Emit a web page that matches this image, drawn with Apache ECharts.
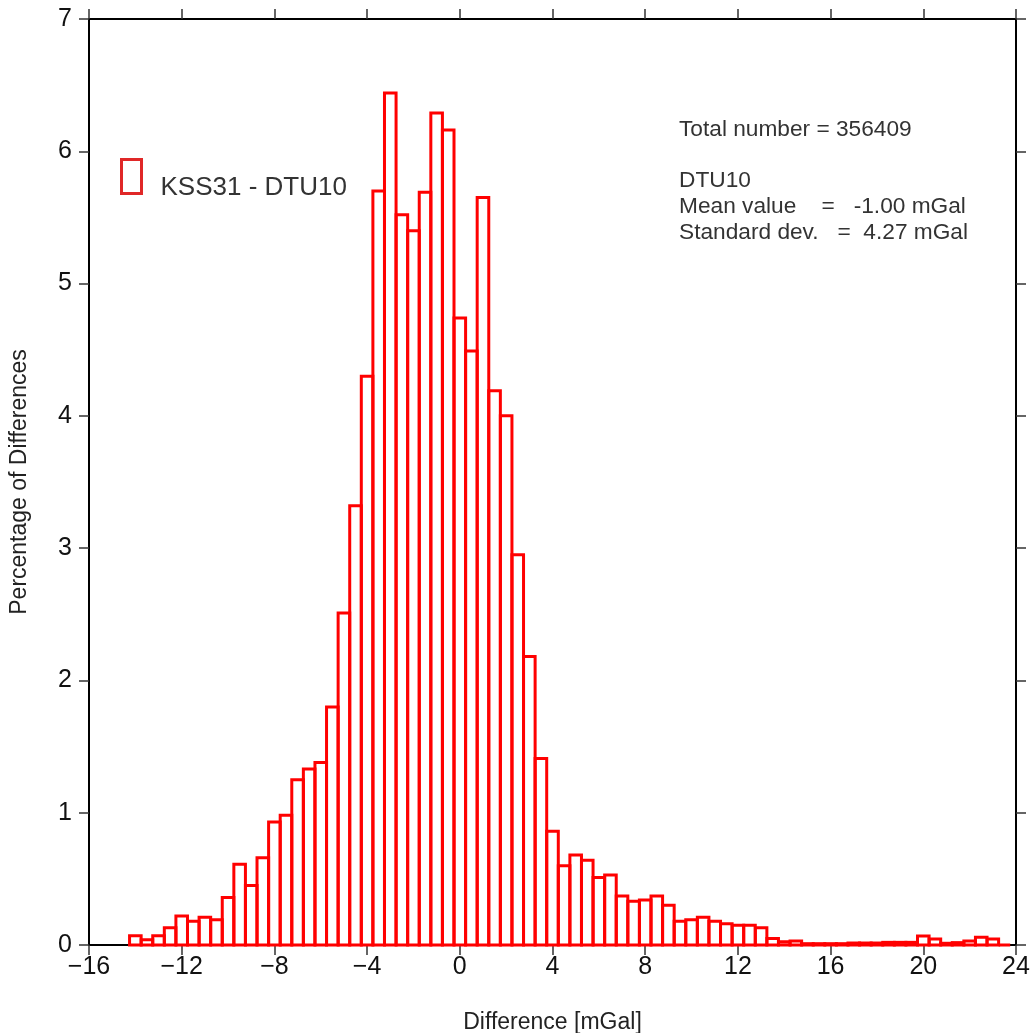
<!DOCTYPE html>
<html>
<head>
<meta charset="utf-8">
<script src="https://cdn.jsdelivr.net/npm/echarts@6/dist/echarts.min.js"></script>
<style>
html,body{margin:0;padding:0;background:#fff;}
#chart{width:1030px;height:1033px;}
</style>
</head>
<body>
<div id="chart"></div>
<script>
// ---- data ----
const binCenters = [
  -14, -13.5, -13, -12.5, -12, -11.5, -11, -10.5, -10, -9.5,
  -9, -8.5, -8, -7.5, -7, -6.5, -6, -5.5, -5, -4.5,
  -4, -3.5, -3, -2.5, -2, -1.5, -1, -0.5, 0, 0.5,
  1, 1.5, 2, 2.5, 3, 3.5, 4, 4.5, 5, 5.5,
  6, 6.5, 7, 7.5, 8, 8.5, 9, 9.5, 10, 10.5,
  11, 11.5, 12, 12.5, 13, 13.5, 14, 14.5, 15, 15.5,
  16, 16.5, 17, 17.5, 18, 18.5, 19, 19.5, 20, 20.5,
  21, 21.5, 22, 22.5, 23, 23.5
];
const percentages = [
  0.07, 0.04, 0.07, 0.13, 0.22, 0.18, 0.21, 0.19, 0.36, 0.61,
  0.45, 0.66, 0.93, 0.98, 1.25, 1.33, 1.38, 1.80, 2.51, 3.32,
  4.30, 5.70, 6.44, 5.52, 5.40, 5.69, 6.29, 6.16, 4.74, 4.49,
  5.65, 4.19, 4.00, 2.95, 2.18, 1.41, 0.86, 0.60, 0.68, 0.64,
  0.51, 0.53, 0.37, 0.33, 0.34, 0.37, 0.30, 0.18, 0.19, 0.21,
  0.18, 0.16, 0.15, 0.15, 0.13, 0.05, 0.025, 0.03, 0.01, 0.01,
  0.01, 0.01, 0.015, 0.015, 0.015, 0.02, 0.02, 0.02, 0.068, 0.045,
  0.013, 0.018, 0.03, 0.058, 0.045, 0
];
const binWidth = 0.5;
const seriesName = 'KSS31 - DTU10';
const xTitle = 'Difference [mGal]';
const yTitle = 'Percentage of Differences';
const statLines = [
  'Total number = 356409',
  '',
  'DTU10',
  'Mean value    =   -1.00 mGal',
  'Standard dev.   =  4.27 mGal'
];

const histData = binCenters.map((c, i) => [c, percentages[i]]);

const chart = echarts.init(document.getElementById('chart'), null, {renderer: 'canvas'});
const FONT = '"Liberation Sans", Arial, Helvetica, sans-serif';
const axisLineStyle = {color: '#000', width: 2};
const tickStyle = {show: true, inside: false, length: 10, lineStyle: {color: '#333', width: 1.5}};

const option = {
  backgroundColor: '#fff',
  animation: false,
  grid: {left: 89, right: 14, top: 19, bottom: 88, containLabel: false, outerBoundsMode: 'none'},
  legend: {
    data: [seriesName],
    left: 120, top: 158, padding: 0,
    itemWidth: 20, itemHeight: 34,
    icon: 'rect',
    itemStyle: {color: '#fff', borderColor: '#e02828', borderWidth: 3},
    formatter: name => '{t|' + name + '}',
    textStyle: {
      fontFamily: FONT, fontSize: 26, color: '#333',
      rich: {t: {fontFamily: FONT, fontSize: 26, color: '#333', padding: [23, 0, 0, 14]}}
    },
    selectedMode: false
  },
  xAxis: [{
    type: 'value', min: -16, max: 24, interval: 4,
    name: xTitle, nameLocation: 'middle', nameGap: 66,
    nameTextStyle: {fontFamily: FONT, fontSize: 23, color: '#222'},
    axisLine: {show: true, onZero: false, lineStyle: axisLineStyle},
    axisTick: tickStyle,
    axisLabel: {fontFamily: FONT, fontSize: 25, color: '#111', margin: 10,
      formatter: v => String(v).replace('-', '\u2212')},
    splitLine: {show: false}
  }, {
    type: 'value', position: 'top', min: -16, max: 24, interval: 4,
    axisLine: {show: true, onZero: false, lineStyle: axisLineStyle},
    axisTick: tickStyle,
    axisLabel: {show: false}, splitLine: {show: false}
  }],
  yAxis: [{
    type: 'value', min: 0, max: 7, interval: 1,
    name: yTitle, nameLocation: 'middle', nameGap: 58, nameRotate: 90,
    nameTextStyle: {fontFamily: FONT, fontSize: 23, color: '#222'},
    axisLine: {show: true, onZero: false, lineStyle: axisLineStyle},
    axisTick: tickStyle,
    axisLabel: {fontFamily: FONT, fontSize: 25, color: '#111', margin: 17},
    splitLine: {show: false}
  }, {
    type: 'value', position: 'right', min: 0, max: 7, interval: 1,
    axisLine: {show: true, onZero: false, lineStyle: axisLineStyle},
    axisTick: tickStyle,
    axisLabel: {show: false}, splitLine: {show: false}
  }],
  series: [{
    name: seriesName,
    type: 'custom',
    xAxisIndex: 0, yAxisIndex: 0,
    data: histData,
    encode: {x: 0, y: 1},
    clip: false,
    itemStyle: {color: '#fff', borderColor: '#e02828', borderWidth: 3},
    renderItem: function (params, api) {
      const c = api.value(0), v = api.value(1);
      const p0 = api.coord([c - binWidth / 2, v]);
      const p1 = api.coord([c + binWidth / 2, 0]);
      return {
        type: 'rect',
        shape: {x: p0[0], y: p0[1], width: p1[0] - p0[0], height: p1[1] - p0[1]},
        style: {fill: 'none', stroke: '#ff0000', lineWidth: 3}
      };
    }
  }],
  graphic: statLines.map((t, i) => ({
    type: 'text',
    left: 679,
    top: 118 + i * 25.8,
    style: {text: t, fontFamily: FONT, fontSize: 22.7, fill: '#333'}
  }))
};
chart.setOption(option);
</script>
</body>
</html>
